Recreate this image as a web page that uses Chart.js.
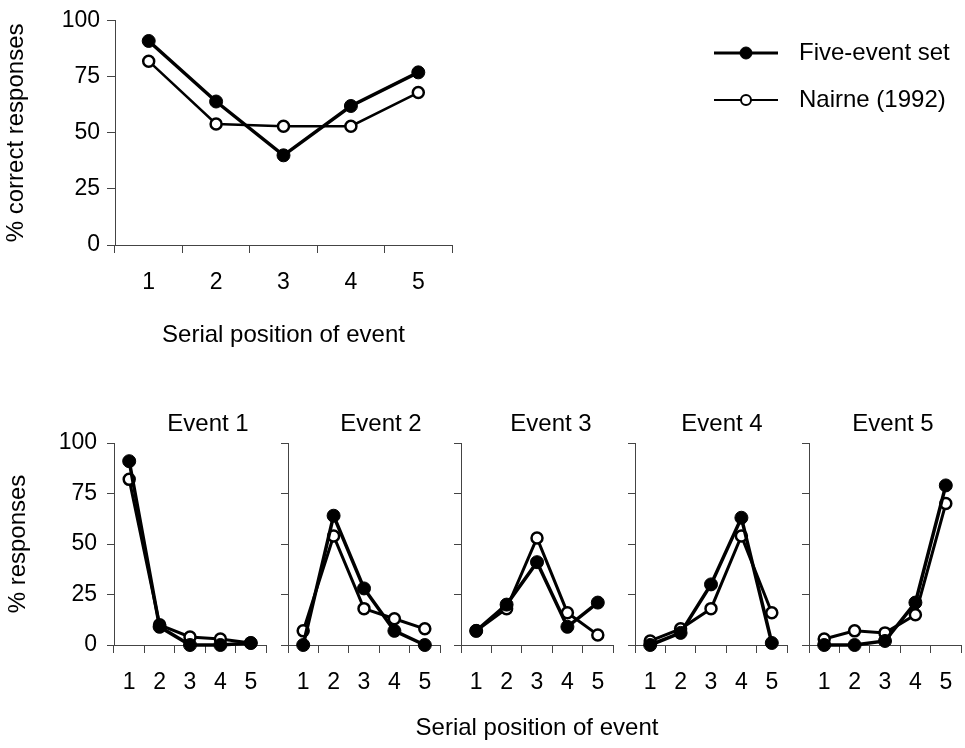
<!DOCTYPE html>
<html>
<head>
<meta charset="utf-8">
<script src="https://cdn.jsdelivr.net/npm/chart.js@4.4.1/dist/chart.umd.min.js"></script>
<style>
  html, body { margin: 0; padding: 0; background: #fff; }
  #wrap { position: relative; width: 965px; height: 748px; overflow: hidden; }
  canvas { position: absolute; }
</style>
</head>
<body>
<div id="wrap">
  <canvas id="overall" width="965" height="360" style="left:0;top:0"></canvas>
</div>
<script>
// ---- data ----
const positions = ["1", "2", "3", "4", "5"];
const seriesNames = ["Five-event set", "Nairne (1992)"];

const overallFive = [91, 64, 40, 62, 77];
const overallNairne = [82, 54, 53, 53, 68];

const eventTitles = ["Event 1", "Event 2", "Event 3", "Event 4", "Event 5"];
const fiveByEvent = [
    [91, 9, 0, 0, 1],
    [0, 64, 28, 7, 0],
    [7, 20, 41, 9, 21],
    [0, 6, 30, 63, 1],
    [0, 0, 2, 21, 79],
];
const nairneByEvent = [
    [82, 10, 4, 3, 1],
    [7, 54, 18, 13, 8],
    [7, 18, 53, 16, 5],
    [2, 8, 18, 54, 16],
    [3, 7, 6, 15, 70],
];
const yTicks = [0, 25, 50, 75, 100];

// ---- styling / layout ----
const FONT = "'Liberation Sans', Arial, Helvetica, sans-serif";
const AXIS = "#444";
const panelLeft = [114, 287.7, 461.4, 635.1, 808.8];
const panelWidth = 152;
const titleShift = [18, 17, 14, 11, 8];

function makeDataset(k, values, openWidth) {
    const filled = k === 0;
    return {
        label: seriesNames[k],
        data: values,
        borderColor: "#000",
        borderWidth: filled ? 3.5 : openWidth,
        pointRadius: filled ? 6.5 : 5.5,
        pointBackgroundColor: filled ? "#000" : "#fff",
        pointBorderColor: "#000",
        pointBorderWidth: filled ? 1 : 2.5,
        tension: 0,
        clip: false,
    };
}

// line + marker legend, drawn at fixed spot of the top canvas
const lineLegend = {
    id: "lineLegend",
    afterDraw(chart, args, opts) {
        const ctx = chart.ctx;
        chart.data.datasets.forEach((ds, i) => {
            const y = opts.y + i * opts.gap;
            ctx.save();
            ctx.strokeStyle = ds.borderColor;
            ctx.lineWidth = i === 0 ? 3 : 2;
            ctx.beginPath();
            ctx.moveTo(opts.x, y);
            ctx.lineTo(opts.x + opts.len, y);
            ctx.stroke();
            ctx.beginPath();
            ctx.arc(opts.x + opts.len / 2, y, i === 0 ? 6 : 5, 0, Math.PI * 2);
            ctx.fillStyle = ds.pointBackgroundColor;
            ctx.fill();
            ctx.lineWidth = i === 0 ? 1 : 2;
            ctx.stroke();
            ctx.fillStyle = "#000";
            ctx.font = "24px " + FONT;
            ctx.textBaseline = "middle";
            ctx.textAlign = "left";
            ctx.fillText(ds.label, opts.textX, y);
            ctx.restore();
        });
    },
};

// panel heading above the plot, optional shared caption below
const panelText = {
    id: "panelText",
    afterDraw(chart, args, opts) {
        const ctx = chart.ctx;
        const area = chart.chartArea;
        const cx = (area.left + area.right) / 2;
        ctx.save();
        ctx.fillStyle = "#000";
        ctx.font = "24px " + FONT;
        ctx.textAlign = "center";
        ctx.textBaseline = "middle";
        if (opts.text) ctx.fillText(opts.text, cx + opts.dx, area.top - 19);
        if (opts.caption) ctx.fillText(opts.caption, cx, area.bottom + 83);
        ctx.restore();
    },
};

function xScale(height, withTitle) {
    return {
        type: "category",
        offset: true,
        grid: { offset: true, drawOnChartArea: false, tickLength: 8, color: AXIS, lineWidth: 1 },
        border: { color: AXIS, width: 1 },
        ticks: { color: "#000", font: { family: FONT, size: 23 }, padding: 16, maxRotation: 0 },
        title: {
            display: withTitle,
            text: "Serial position of event",
            color: "#000",
            font: { family: FONT, size: 24 },
            padding: 0,
        },
        afterFit(s) { s.height = height; },
    };
}

function yScale(width, showLabels, titleText, tickLen, pad) {
    return {
        min: 0,
        max: 100,
        afterBuildTicks(s) { s.ticks = yTicks.map(v => ({ value: v })); },
        grid: { drawOnChartArea: false, tickLength: tickLen, color: AXIS, lineWidth: 1 },
        border: { color: AXIS, width: 1 },
        ticks: { display: showLabels, color: "#000", font: { family: FONT, size: 23 }, padding: pad },
        title: {
            display: !!titleText,
            text: titleText || "",
            color: "#000",
            font: { family: FONT, size: 24 },
            padding: 0,
        },
        afterFit(s) { s.width = width; },
    };
}

// top chart: overall serial position curve
new Chart(document.getElementById("overall"), {
    type: "line",
    data: {
        labels: positions,
        datasets: [makeDataset(0, overallFive, 2.5), makeDataset(1, overallNairne, 2.5)],
    },
    options: {
        responsive: false,
        animation: false,
        events: [],
        layout: { padding: { left: 2, top: 18, right: 513, bottom: 10.6 } },
        plugins: {
            legend: { display: false },
            tooltip: { enabled: false },
            lineLegend: { x: 714, y: 53, gap: 47, len: 64, textX: 799 },
        },
        scales: {
            x: xScale(104.4, true),
            y: yScale(113, true, "% correct responses", 8, 7),
        },
    },
    plugins: [lineLegend],
});

// bottom row: one small panel per event
const wrap = document.getElementById("wrap");
eventTitles.forEach((title, i) => {
    const first = i === 0;
    const mid = i === 2;
    const padL = first ? 4 : (mid ? 90 : 0);
    const axisW = first ? 110 : 10;
    const padR = mid ? 98 : 8;
    const canvas = document.createElement("canvas");
    const left = panelLeft[i] - axisW - padL;
    canvas.width = Math.round(padL + axisW + panelWidth + padR);
    canvas.height = 348;
    canvas.style.left = left + "px";
    canvas.style.top = "400px";
    wrap.appendChild(canvas);

    new Chart(canvas, {
        type: "line",
        data: {
            labels: positions,
            datasets: [makeDataset(0, fiveByEvent[i], 3), makeDataset(1, nairneByEvent[i], 3)],
        },
        options: {
            responsive: false,
            animation: false,
            events: [],
            layout: { padding: { left: padL, top: 43, right: canvas.width - padL - axisW - panelWidth, bottom: 5.6 } },
            plugins: {
                legend: { display: false },
                tooltip: { enabled: false },
                panelText: {
                    text: title,
                    dx: titleShift[i],
                    caption: mid ? "Serial position of event" : null,
                },
            },
            scales: {
                x: xScale(97.4, false),
                y: yScale(axisW, first, first ? "% responses" : null, 7, 10),
            },
        },
        plugins: [panelText],
    });
});
</script>
</body>
</html>
